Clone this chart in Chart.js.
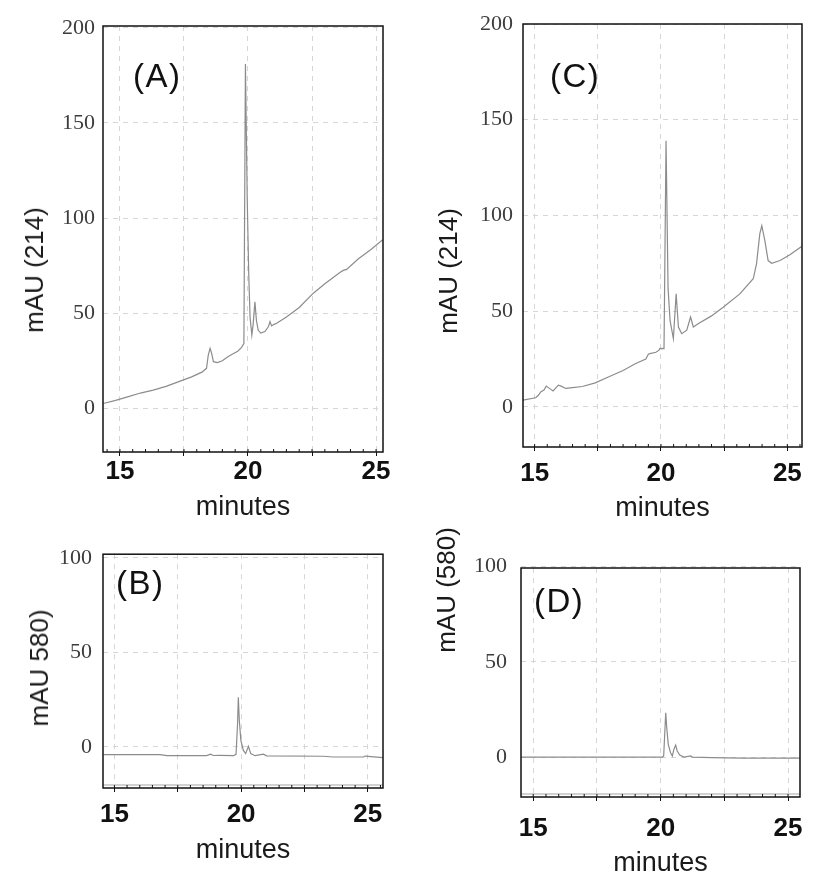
<!DOCTYPE html>
<html>
<head>
    <title>HPLC traces</title>
    <script src="https://cdn.jsdelivr.net/npm/chart.js"></script>
    <style>
        body { margin: 0; background: #fff; }
        #page { position: relative; width: 818px; height: 893px; overflow: hidden; }
        .panel { position: absolute; }
        .tag { position: absolute; font: 33px "Liberation Sans", Arial, sans-serif; color: #111; line-height: 1; letter-spacing: 1.5px; white-space: nowrap; }
        .ytitle { position: absolute; font: 26px "Liberation Sans", Arial, sans-serif; color: #1a1a1a; white-space: nowrap;
                  transform: translate(-50%, -50%) rotate(-90deg); line-height: 1; }
    </style>
</head>
<body>
<div id="page">
    <div class="panel" style="left:0;top:0"><canvas id="chartA" width="409" height="530"></canvas></div>
    <div class="panel" style="left:409px;top:0"><canvas id="chartC" width="409" height="530"></canvas></div>
    <div class="panel" style="left:0;top:530px"><canvas id="chartB" width="409" height="363"></canvas></div>
    <div class="panel" style="left:409px;top:530px"><canvas id="chartD" width="409" height="363"></canvas></div>

    <div class="tag" style="left:133px;top:59px">(A)</div>
    <div class="tag" style="left:550px;top:59px">(C)</div>
    <div class="tag" style="left:116px;top:566px">(B)</div>
    <div class="tag" style="left:534px;top:584px">(D)</div>

    <div class="ytitle" style="left:34px;top:270px">mAU (214)</div>
    <div class="ytitle" style="left:448px;top:271px">mAU (214)</div>
    <div class="ytitle" style="left:39px;top:668px">mAU 580)</div>
    <div class="ytitle" style="left:446px;top:590px">mAU (580)</div>
</div>
<script>
    // valeurs (minutes / mAU)
    const aTime = [14.35, 14.8, 15.3, 15.8, 16.3, 16.8, 17.3, 17.8, 18.2, 18.38, 18.45, 18.52, 18.58, 18.65, 18.8, 19.0, 19.2, 19.4, 19.6, 19.75, 19.84, 19.9, 19.97, 20.03, 20.08, 20.15, 20.2, 20.27, 20.33, 20.4, 20.5, 20.66, 20.8, 20.86, 20.92, 21.0, 21.12, 21.5, 22.0, 22.55, 23.0, 23.6, 23.72, 23.85, 24.3, 24.8, 25.26];
    const aMau  = [2.5, 4, 6, 8, 9.5, 11.5, 14, 16.5, 19, 21, 28, 31.5, 29, 24.5, 24, 25, 27, 28.5, 30, 32, 34, 181, 110, 70, 48, 38.5, 44, 56, 46, 41, 39.5, 40.3, 43, 45.6, 43.3, 44, 44.7, 48, 53, 60.5, 65.5, 71.5, 72.5, 73, 78.5, 83.5, 88.6];

    const cTime = [14.54, 15.04, 15.15, 15.24, 15.37, 15.46, 15.6, 15.73, 15.94, 16.05, 16.23, 16.5, 16.89, 17.4, 17.94, 18.5, 19.0, 19.4, 19.5, 19.56, 19.8, 19.92, 19.96, 20.12, 20.2, 20.28, 20.36, 20.49, 20.6, 20.69, 20.82, 21.02, 21.17, 21.28, 21.47, 22.0, 22.46, 23.12, 23.65, 23.78, 23.91, 23.99, 24.11, 24.24, 24.38, 24.71, 25.1, 25.59];
    const cMau  = [3.5, 4.7, 6, 7.8, 8.7, 10.8, 9.5, 8.3, 11.3, 10.8, 9.6, 10, 10.6, 12.5, 15.7, 19, 22.6, 25, 27.5, 27.8, 28.5, 29.6, 30.5, 30.4, 139, 62, 45, 35.6, 59, 41.7, 38.2, 40, 46.9, 41.7, 43.4, 47.5, 52, 59, 66.9, 74.7, 90.3, 94.6, 86.8, 76.4, 75, 76.4, 79.5, 84];

    const bTime = [14.57, 16.8, 17.07, 18.64, 18.8, 18.9, 19.17, 19.7, 19.8, 19.86, 19.89, 19.93, 19.99, 20.09, 20.18, 20.29, 20.38, 20.55, 20.88, 21.01, 23.25, 23.64, 24.83, 24.9, 25.59];
    const bMau  = [-4, -4, -4.6, -4.6, -3.8, -4.5, -4.4, -4.6, -3.9, 12, 26.3, 14, 3.5, -1.8, -3.5, 0.4, -3.5, -4.6, -3.8, -4.7, -4.9, -5.3, -5.3, -4.8, -5.6];

    const dTime = [14.53, 20.07, 20.12, 20.17, 20.2, 20.24, 20.3, 20.39, 20.46, 20.52, 20.59, 20.65, 20.75, 20.92, 21.18, 21.24, 22.03, 23.2, 25.47];
    const dMau  = [0.35, 0.35, 0.9, 15, 23.4, 15.6, 7, 2.6, 0.9, 4.3, 6.6, 3.5, 1.4, 0.35, 0.9, 0.35, 0, -0.2, -0.2];

    // graduations
    const xMajor = [15, 17.5, 20, 22.5, 25];
    const xLabels = [15, 20, 25];
    const yTicks214 = [0, 50, 100, 150, 200];
    const yTicks580 = [0, 50, 100];

    const xMinor = [];
    for (let t = 14.5; t <= 25.5; t += 0.5) xMinor.push(t);
    const isMajor = v => xMajor.some(m => Math.abs(m - v) < 1e-6);

    // cadre noir + petites graduations internes
    const framePlugin = {
        id: 'frame',
        afterDatasetsDraw(chart, args, opts) {
            const { ctx, chartArea: a, scales } = chart;
            const x = scales.x;
            ctx.save();
            if (opts.band) {
                ctx.strokeStyle = '#d2d2d2';
                ctx.lineWidth = 2;
                ctx.beginPath();
                ctx.moveTo(a.left, a.bottom - 3);
                ctx.lineTo(a.right, a.bottom - 3);
                ctx.stroke();
            }
            ctx.strokeStyle = '#111';
            ctx.lineWidth = 1.5;
            ctx.strokeRect(a.left, a.top, a.right - a.left, a.bottom - a.top);
            ctx.lineWidth = 1;
            ctx.beginPath();
            x.ticks.forEach(t => {
                const px = x.getPixelForValue(t.value);
                if (px < a.left || px > a.right) return;
                ctx.moveTo(px, a.bottom);
                ctx.lineTo(px, a.bottom - 3);
            });
            ctx.stroke();
            ctx.restore();
        }
    };

    function makeChart(id, time, mau, p) {
        const [aL, aT, aR, aB] = p.area;
        const W = 409, H = p.h;
        return new Chart(document.getElementById(id), {
            type: 'line',
            data: {
                datasets: [{
                    data: time.map((t, i) => ({ x: t, y: mau[i] })),
                    borderColor: '#8c8c8c',
                    borderWidth: 1.2,
                    pointRadius: 0,
                    tension: 0,
                    fill: false
                }]
            },
            options: {
                responsive: false,
                animation: false,
                layout: { padding: { left: 0, top: aT, right: W - aR, bottom: 0 } },
                plugins: {
                    legend: { display: false },
                    tooltip: { enabled: false },
                    frame: { band: p.band }
                },
                scales: {
                    x: {
                        type: 'linear',
                        min: p.x[0], max: p.x[1],
                        afterBuildTicks: s => { s.ticks = xMinor.map(v => ({ value: v })); },
                        afterFit: s => { s.height = H - aB; },
                        grid: {
                            color: c => (c.tick && isMajor(c.tick.value)) ? '#d6d6d6' : 'transparent',
                            tickColor: c => (c.tick && isMajor(c.tick.value)) ? '#111' : 'transparent',
                            tickLength: 4,
                            lineWidth: 1
                        },
                        border: { display: false, dash: [5, 5] },
                        ticks: {
                            autoSkip: false,
                            maxRotation: 0,
                            padding: p.xPad,
                            color: '#111',
                            font: { family: 'Liberation Sans', size: 26, weight: 'bold' },
                            callback: v => xLabels.includes(v) ? String(v) : ''
                        },
                        title: {
                            display: true,
                            text: 'minutes',
                            color: '#1a1a1a',
                            font: { family: 'Liberation Sans', size: 27 },
                            padding: { top: 0, bottom: p.titlePad }
                        }
                    },
                    y: {
                        min: p.y[0], max: p.y[1],
                        afterBuildTicks: s => { s.ticks = p.yTicks.map(v => ({ value: v })); },
                        afterFit: s => { s.width = aL; },
                        grid: { color: '#d6d6d6', drawTicks: false, lineWidth: 1 },
                        border: { display: false, dash: [5, 5] },
                        ticks: {
                            padding: p.yPad,
                            color: '#3c3c3c',
                            font: { family: 'Liberation Serif', size: 22 }
                        }
                    }
                }
            },
            plugins: [framePlugin]
        });
    }

    makeChart('chartA', aTime, aMau, { h: 530, area: [103, 26, 383, 452], x: [14.34, 25.27], y: [-23, 201], yTicks: yTicks214, yPad: 8, xPad: 0, titlePad: 6, band: false });
    makeChart('chartC', cTime, cMau, { h: 530, area: [114, 24, 393, 447], x: [14.54, 25.58], y: [-21, 200], yTicks: yTicks214, yPad: 10, xPad: 7, titlePad: 5, band: false });
    makeChart('chartB', bTime, bMau, { h: 363, area: [103, 23, 383, 258], x: [14.55, 25.6], y: [-21.7, 102], yTicks: yTicks580, yPad: 11, xPad: 7, titlePad: 26, band: true });
    makeChart('chartD', dTime, dMau, { h: 363, area: [112, 38, 391, 267], x: [14.52, 25.47], y: [-20.5, 99], yTicks: yTicks580, yPad: 14, xPad: 12, titlePad: 13, band: true });
</script>
</body>
</html>
